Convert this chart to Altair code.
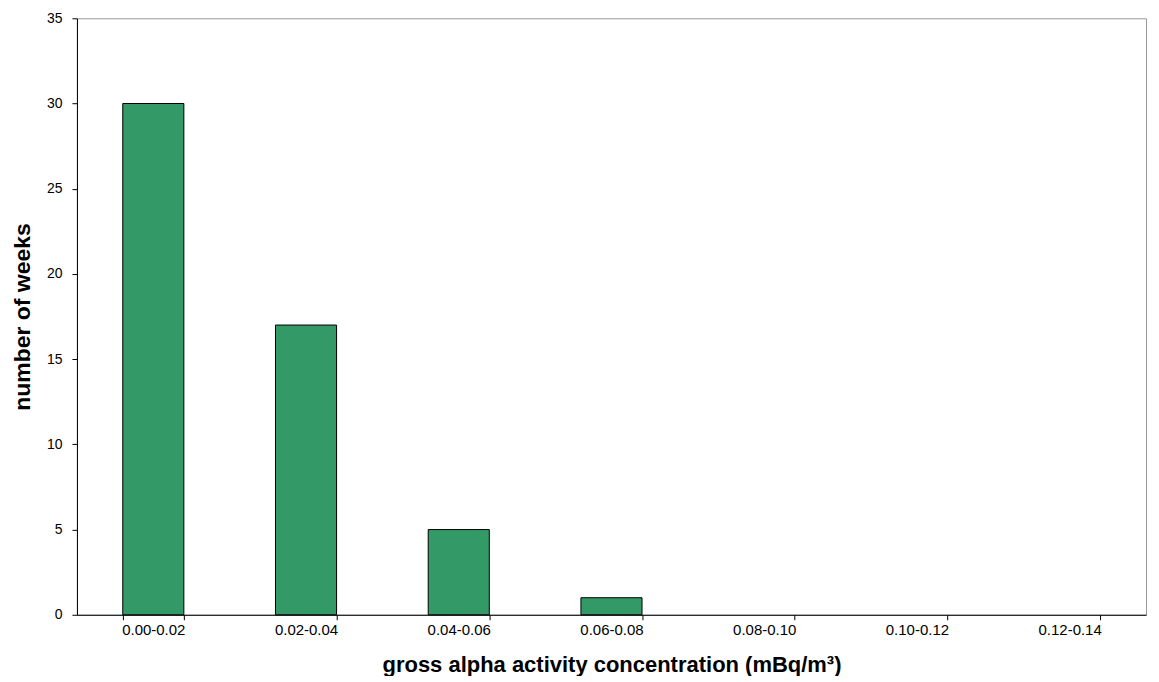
import altair as alt
import pandas as pd

categories = ["0.00-0.02", "0.02-0.04", "0.04-0.06", "0.06-0.08", "0.08-0.10", "0.10-0.12", "0.12-0.14"]
weeks = [30, 17, 5, 1, 0, 0, 0]

df = pd.DataFrame({"range": categories, "weeks": weeks})

bars = alt.Chart(df).transform_filter("datum.weeks > 0").mark_bar(
    color="#339966", stroke="#000000", strokeWidth=1
).encode(
    x=alt.X("range:N", sort=categories,
            scale=alt.Scale(domain=categories, paddingInner=0.6, paddingOuter=0.3),
            axis=alt.Axis(title="gross alpha activity concentration (mBq/m³)", labelAngle=0,
                          tickBand="extent", tickSize=5, tickColor="#000000",
                          domainColor="#000000", labelFont="Liberation Sans", labelFontSize=15,
                          labelColor="#000000", labelPadding=3,
                          titleFont="Liberation Sans", titleFontSize=22, titleFontWeight="bold",
                          titleColor="#000000", titlePadding=17)),
    y=alt.Y("weeks:Q", scale=alt.Scale(domain=[0, 35]),
            axis=alt.Axis(title="number of weeks", values=[0, 5, 10, 15, 20, 25, 30, 35], grid=False,
                          tickSize=5, tickColor="#000000", domainColor="#000000",
                          labelFont="Liberation Sans", labelFontSize=14, labelColor="#000000",
                          labelPadding=10, titleFont="Liberation Sans", titleFontSize=23,
                          titleFontWeight="bold", titleColor="#000000", titlePadding=12)),
)

chart = bars.properties(width=1070, height=597, padding={"left": 3, "top": 3, "right": 5, "bottom": 0}).configure_view(
    stroke="#999999", strokeWidth=1
)

chart.save("out.html", embed_options={"renderer": "svg", "actions": False})
